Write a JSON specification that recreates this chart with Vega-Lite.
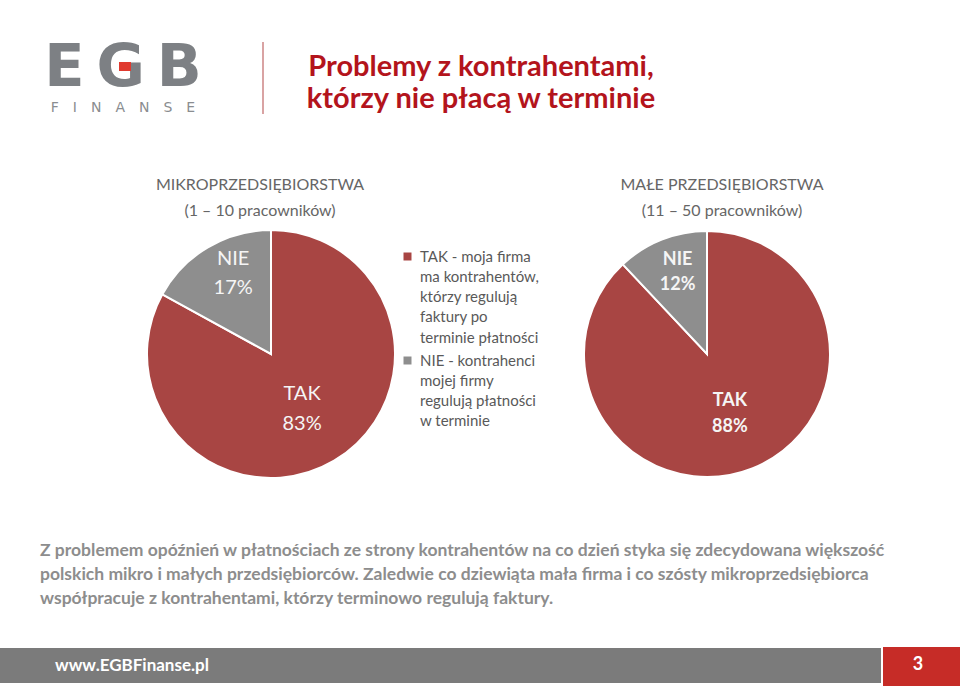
{
  "$schema": "https://vega.github.io/schema/vega-lite/v6.json",
  "width": 960,
  "height": 686,
  "autosize": {"type": "fit", "contains": "padding"},
  "padding": 0,
  "background": "#ffffff",
  "config": {"view": {"stroke": null}, "font": "Lato", "style": {"guide-label": {"lineHeight": 20.3, "dy": -7}}},
  "datasets": {
    "shares": [
      {"group": "mikro", "answer": "TAK", "share": 0.83, "legend": "TAK - moja firma\nma kontrahentów,\nktórzy regulują\nfaktury po\nterminie płatności"},
      {"group": "mikro", "answer": "NIE", "share": 0.17, "legend": "NIE - kontrahenci\nmojej firmy\nregulują płatności\nw terminie"},
      {"group": "male", "answer": "TAK", "share": 0.88, "legend": "TAK - moja firma\nma kontrahentów,\nktórzy regulują\nfaktury po\nterminie płatności"},
      {"group": "male", "answer": "NIE", "share": 0.12, "legend": "NIE - kontrahenci\nmojej firmy\nregulują płatności\nw terminie"}
    ],
    "one": [{}]
  },
  "layer": [
    {
      "data": {"name": "one"},
      "mark": {"type": "text", "text": "E\u2009G\u2009B", "font": "DejaVu Sans", "fontWeight": "bold", "fontSize": 59, "color": "#7d8084", "align": "center", "baseline": "alphabetic"},
      "encoding": {"x": {"value": 123}, "y": {"value": 86}}
    },
    {
      "data": {"name": "one"},
      "mark": {"type": "rect", "color": "#e03a2f"},
      "encoding": {"x": {"value": 119}, "x2": {"value": 131}, "y": {"value": 62}, "y2": {"value": 71}}
    },
    {
      "data": {"name": "one"},
      "mark": {"type": "text", "text": "F\u2003I\u2003N\u2003A\u2003N\u2003S\u2003E", "font": "DejaVu Sans", "fontSize": 14, "color": "#8a8d90", "align": "center", "baseline": "middle"},
      "encoding": {"x": {"value": 123}, "y": {"value": 108}}
    },
    {
      "data": {"name": "one"},
      "mark": {"type": "rule", "color": "#d9a3a3", "strokeWidth": 2},
      "encoding": {"x": {"value": 263}, "y": {"value": 42}, "y2": {"value": 114}}
    },
    {
      "data": {"name": "one"},
      "mark": {"type": "text", "text": ["Problemy z kontrahentami,", "którzy nie płacą w terminie"], "font": "Lato", "fontWeight": "bold", "fontSize": 29, "lineHeight": 32, "color": "#b3141c", "align": "center", "baseline": "alphabetic"},
      "encoding": {"x": {"value": 481}, "y": {"value": 76}}
    },
    {
      "data": {"name": "one"},
      "mark": {"type": "text", "text": ["MIKROPRZEDSIĘBIORSTWA", "(1 – 10 pracowników)"], "font": "Lato", "fontSize": 16, "lineHeight": 26, "color": "#666666", "align": "center", "baseline": "alphabetic"},
      "encoding": {"x": {"value": 260}, "y": {"value": 190}}
    },
    {
      "data": {"name": "one"},
      "mark": {"type": "text", "text": ["MAŁE PRZEDSIĘBIORSTWA", "(11 – 50 pracowników)"], "font": "Lato", "fontSize": 16, "lineHeight": 26, "color": "#666666", "align": "center", "baseline": "alphabetic"},
      "encoding": {"x": {"value": 722}, "y": {"value": 190}}
    },
    {
      "data": {"name": "shares"},
      "transform": [{"filter": "datum.group === 'mikro'"}],
      "mark": {"type": "arc", "outerRadius": 124, "stroke": "#ffffff", "strokeWidth": 2},
      "encoding": {
        "x": {"field": "group", "type": "nominal", "scale": {"type": "point", "domain": ["mikro", "male"], "range": [271, 707], "padding": 0}, "axis": null},
        "y": {"value": 354},
        "theta": {"field": "share", "type": "quantitative", "stack": true, "scale": {"domain": [0, 1]}},
        "order": {"field": "answer", "sort": "descending"},
        "color": {
          "field": "legend", "type": "nominal",
          "scale": {"domain": ["TAK - moja firma\nma kontrahentów,\nktórzy regulują\nfaktury po\nterminie płatności", "NIE - kontrahenci\nmojej firmy\nregulują płatności\nw terminie"], "range": ["#a84543", "#8e8e8e"]},
          "legend": {
            "title": null, "orient": "none", "legendX": 400, "legendY": 249,
            "symbolType": "square", "symbolSize": 64, "symbolStrokeWidth": 0,
            "labelExpr": "split(datum.label, '\\n')",
            "labelFont": "Lato", "labelFontSize": 15, "labelColor": "#595959",
            "labelBaseline": "top", "labelLimit": 400, "labelOffset": 5, "rowPadding": 7
          }
        }
      }
    },
    {
      "data": {"name": "shares"},
      "transform": [{"filter": "datum.group === 'male'"}],
      "mark": {"type": "arc", "outerRadius": 123, "stroke": "#ffffff", "strokeWidth": 2},
      "encoding": {
        "x": {"field": "group", "type": "nominal", "scale": {"type": "point", "domain": ["mikro", "male"], "range": [271, 707], "padding": 0}, "axis": null},
        "y": {"value": 354},
        "theta": {"field": "share", "type": "quantitative", "stack": true, "scale": {"domain": [0, 1]}},
        "order": {"field": "answer", "sort": "descending"},
        "color": {"field": "legend", "type": "nominal"}
      }
    },
    {
      "data": {"name": "shares"},
      "transform": [{"filter": "datum.group === 'mikro'"}],
      "mark": {"type": "text", "radius": 90, "dx": 8, "dy": -18, "font": "Lato", "fontSize": 20, "color": "#f5f5f5"},
      "encoding": {
        "x": {"field": "group", "type": "nominal"},
        "y": {"value": 354},
        "theta": {"field": "share", "type": "quantitative", "stack": true},
        "order": {"field": "answer", "sort": "descending"},
        "text": {"field": "answer"},
        "opacity": {"condition": {"test": "datum.answer === 'NIE'", "value": 1}, "value": 0}
      }
    },
    {
      "data": {"name": "shares"},
      "transform": [{"filter": "datum.group === 'mikro'"}],
      "mark": {"type": "text", "radius": 90, "dx": 8, "dy": 11, "font": "Lato", "fontSize": 20, "color": "#f5f5f5"},
      "encoding": {
        "x": {"field": "group", "type": "nominal"},
        "y": {"value": 354},
        "theta": {"field": "share", "type": "quantitative", "stack": true},
        "order": {"field": "answer", "sort": "descending"},
        "text": {"field": "share", "format": ".0%"},
        "opacity": {"condition": {"test": "datum.answer === 'NIE'", "value": 1}, "value": 0}
      }
    },
    {
      "data": {"name": "shares"},
      "transform": [{"filter": "datum.group === 'mikro'"}],
      "mark": {"type": "text", "radius": 61, "dy": -13, "font": "Lato", "fontSize": 20, "color": "#f5f5f5"},
      "encoding": {
        "x": {"field": "group", "type": "nominal"},
        "y": {"value": 354},
        "theta": {"field": "share", "type": "quantitative", "stack": true},
        "order": {"field": "answer", "sort": "descending"},
        "text": {"field": "answer"},
        "opacity": {"condition": {"test": "datum.answer === 'TAK'", "value": 1}, "value": 0}
      }
    },
    {
      "data": {"name": "shares"},
      "transform": [{"filter": "datum.group === 'mikro'"}],
      "mark": {"type": "text", "radius": 61, "dy": 17, "font": "Lato", "fontSize": 20, "color": "#f5f5f5"},
      "encoding": {
        "x": {"field": "group", "type": "nominal"},
        "y": {"value": 354},
        "theta": {"field": "share", "type": "quantitative", "stack": true},
        "order": {"field": "answer", "sort": "descending"},
        "text": {"field": "share", "format": ".0%"},
        "opacity": {"condition": {"test": "datum.answer === 'TAK'", "value": 1}, "value": 0}
      }
    },
    {
      "data": {"name": "shares"},
      "transform": [{"filter": "datum.group === 'male'"}],
      "mark": {"type": "text", "radius": 88, "dx": 3, "dy": -12, "font": "Lato", "fontWeight": "bold", "fontSize": 18, "color": "#f5f5f5"},
      "encoding": {
        "x": {"field": "group", "type": "nominal"},
        "y": {"value": 354},
        "theta": {"field": "share", "type": "quantitative", "stack": true},
        "order": {"field": "answer", "sort": "descending"},
        "text": {"field": "answer"},
        "opacity": {"condition": {"test": "datum.answer === 'NIE'", "value": 1}, "value": 0}
      }
    },
    {
      "data": {"name": "shares"},
      "transform": [{"filter": "datum.group === 'male'"}],
      "mark": {"type": "text", "radius": 88, "dx": 3, "dy": 13, "font": "Lato", "fontWeight": "bold", "fontSize": 18, "color": "#f5f5f5"},
      "encoding": {
        "x": {"field": "group", "type": "nominal"},
        "y": {"value": 354},
        "theta": {"field": "share", "type": "quantitative", "stack": true},
        "order": {"field": "answer", "sort": "descending"},
        "text": {"field": "share", "format": ".0%"},
        "opacity": {"condition": {"test": "datum.answer === 'NIE'", "value": 1}, "value": 0}
      }
    },
    {
      "data": {"name": "shares"},
      "transform": [{"filter": "datum.group === 'male'"}],
      "mark": {"type": "text", "radius": 62, "dy": -11, "font": "Lato", "fontWeight": "bold", "fontSize": 18, "color": "#f5f5f5"},
      "encoding": {
        "x": {"field": "group", "type": "nominal"},
        "y": {"value": 354},
        "theta": {"field": "share", "type": "quantitative", "stack": true},
        "order": {"field": "answer", "sort": "descending"},
        "text": {"field": "answer"},
        "opacity": {"condition": {"test": "datum.answer === 'TAK'", "value": 1}, "value": 0}
      }
    },
    {
      "data": {"name": "shares"},
      "transform": [{"filter": "datum.group === 'male'"}],
      "mark": {"type": "text", "radius": 62, "dy": 15, "font": "Lato", "fontWeight": "bold", "fontSize": 18, "color": "#f5f5f5"},
      "encoding": {
        "x": {"field": "group", "type": "nominal"},
        "y": {"value": 354},
        "theta": {"field": "share", "type": "quantitative", "stack": true},
        "order": {"field": "answer", "sort": "descending"},
        "text": {"field": "share", "format": ".0%"},
        "opacity": {"condition": {"test": "datum.answer === 'TAK'", "value": 1}, "value": 0}
      }
    },
    {
      "data": {"name": "one"},
      "mark": {"type": "text", "text": ["Z problemem opóźnień w płatnościach ze strony kontrahentów na co dzień styka się zdecydowana większość", "polskich mikro i małych przedsiębiorców. Zaledwie co dziewiąta mała firma i co szósty mikroprzedsiębiorca", "współpracuje z kontrahentami, którzy terminowo regulują faktury."], "font": "Lato", "fontWeight": "bold", "fontSize": 17.5, "lineHeight": 24, "color": "#8d8d8d", "align": "left", "baseline": "alphabetic"},
      "encoding": {"x": {"value": 40}, "y": {"value": 556}}
    },
    {
      "data": {"name": "one"},
      "mark": {"type": "rect", "color": "#7b7b7b"},
      "encoding": {"x": {"value": 0}, "x2": {"value": 881}, "y": {"value": 648}, "y2": {"value": 683}}
    },
    {
      "data": {"name": "one"},
      "mark": {"type": "rect", "color": "#c62c27"},
      "encoding": {"x": {"value": 883}, "x2": {"value": 960}, "y": {"value": 647}, "y2": {"value": 686}}
    },
    {
      "data": {"name": "one"},
      "mark": {"type": "text", "text": "www.EGBFinanse.pl", "font": "Lato", "fontWeight": "bold", "fontSize": 17, "color": "#ffffff", "align": "center", "baseline": "middle"},
      "encoding": {"x": {"value": 132}, "y": {"value": 666}}
    },
    {
      "data": {"name": "one"},
      "mark": {"type": "text", "text": "3", "font": "Lato", "fontWeight": "bold", "fontSize": 18, "color": "#ffffff", "align": "center", "baseline": "middle"},
      "encoding": {"x": {"value": 918}, "y": {"value": 665}}
    }
  ]
}
